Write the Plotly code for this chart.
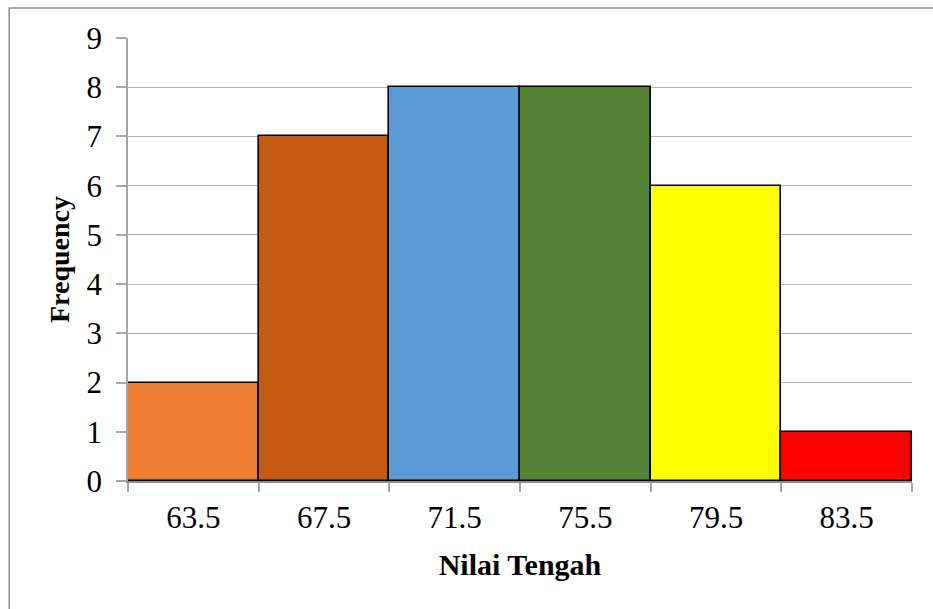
import plotly.graph_objects as go

# Class midpoints and their frequencies
nilai_tengah = ["63.5", "67.5", "71.5", "75.5", "79.5", "83.5"]
frekuensi = [2, 7, 8, 8, 6, 1]
warna = ["#ED7D31", "#C55A11", "#5B9BD5", "#548235", "#FFFF00", "#FF0000"]

y_ticks = list(range(0, 10))

FONT = "Liberation Serif, Times New Roman, serif"

fig = go.Figure(
    go.Bar(
        x=nilai_tengah,
        y=frekuensi,
        marker=dict(color=warna, line=dict(color="#000000", width=1.6)),
        width=1,
        showlegend=False,
    )
)

fig.update_layout(
    width=933,
    height=609,
    margin=dict(l=128, r=21, t=38, b=128),
    paper_bgcolor="#ffffff",
    plot_bgcolor="#ffffff",
    bargap=0,
    font=dict(family=FONT, color="#000000"),
    shapes=[
        # outer chart frame (runs past right and bottom edges)
        dict(
            type="rect", xref="paper", yref="paper",
            x0=-0.1515, x1=1.04, y0=-0.32, y1=1.0675,
            line=dict(color="#8c8c8c", width=1.5),
            fillcolor="rgba(0,0,0,0)", layer="below",
        )
    ],
)

fig.update_xaxes(
    type="category",
    tickson="boundaries",
    ticks="outside",
    ticklen=9,
    tickcolor="#a6a6a6",
    tickwidth=1.5,
    showline=True,
    linecolor="#8c8c8c",
    linewidth=1.5,
    showgrid=False,
    tickfont=dict(size=31, family=FONT),
    ticklabelstandoff=8,
    title=dict(text="<b>Nilai Tengah</b>", font=dict(size=30, family=FONT), standoff=20),
)

fig.update_yaxes(
    range=[0, 9],
    tickvals=y_ticks,
    ticks="outside",
    ticklen=10,
    tickcolor="#a6a6a6",
    tickwidth=1.5,
    showline=True,
    linecolor="#a6a6a6",
    linewidth=1.5,
    showgrid=True,
    gridcolor="#b3b3b3",
    gridwidth=1.2,
    zeroline=False,
    tickfont=dict(size=31, family=FONT),
    ticklabelstandoff=8,
    title=dict(text="<b>Frequency</b>", font=dict(size=28, family=FONT), standoff=9),
)

fig.write_html("out.html")
